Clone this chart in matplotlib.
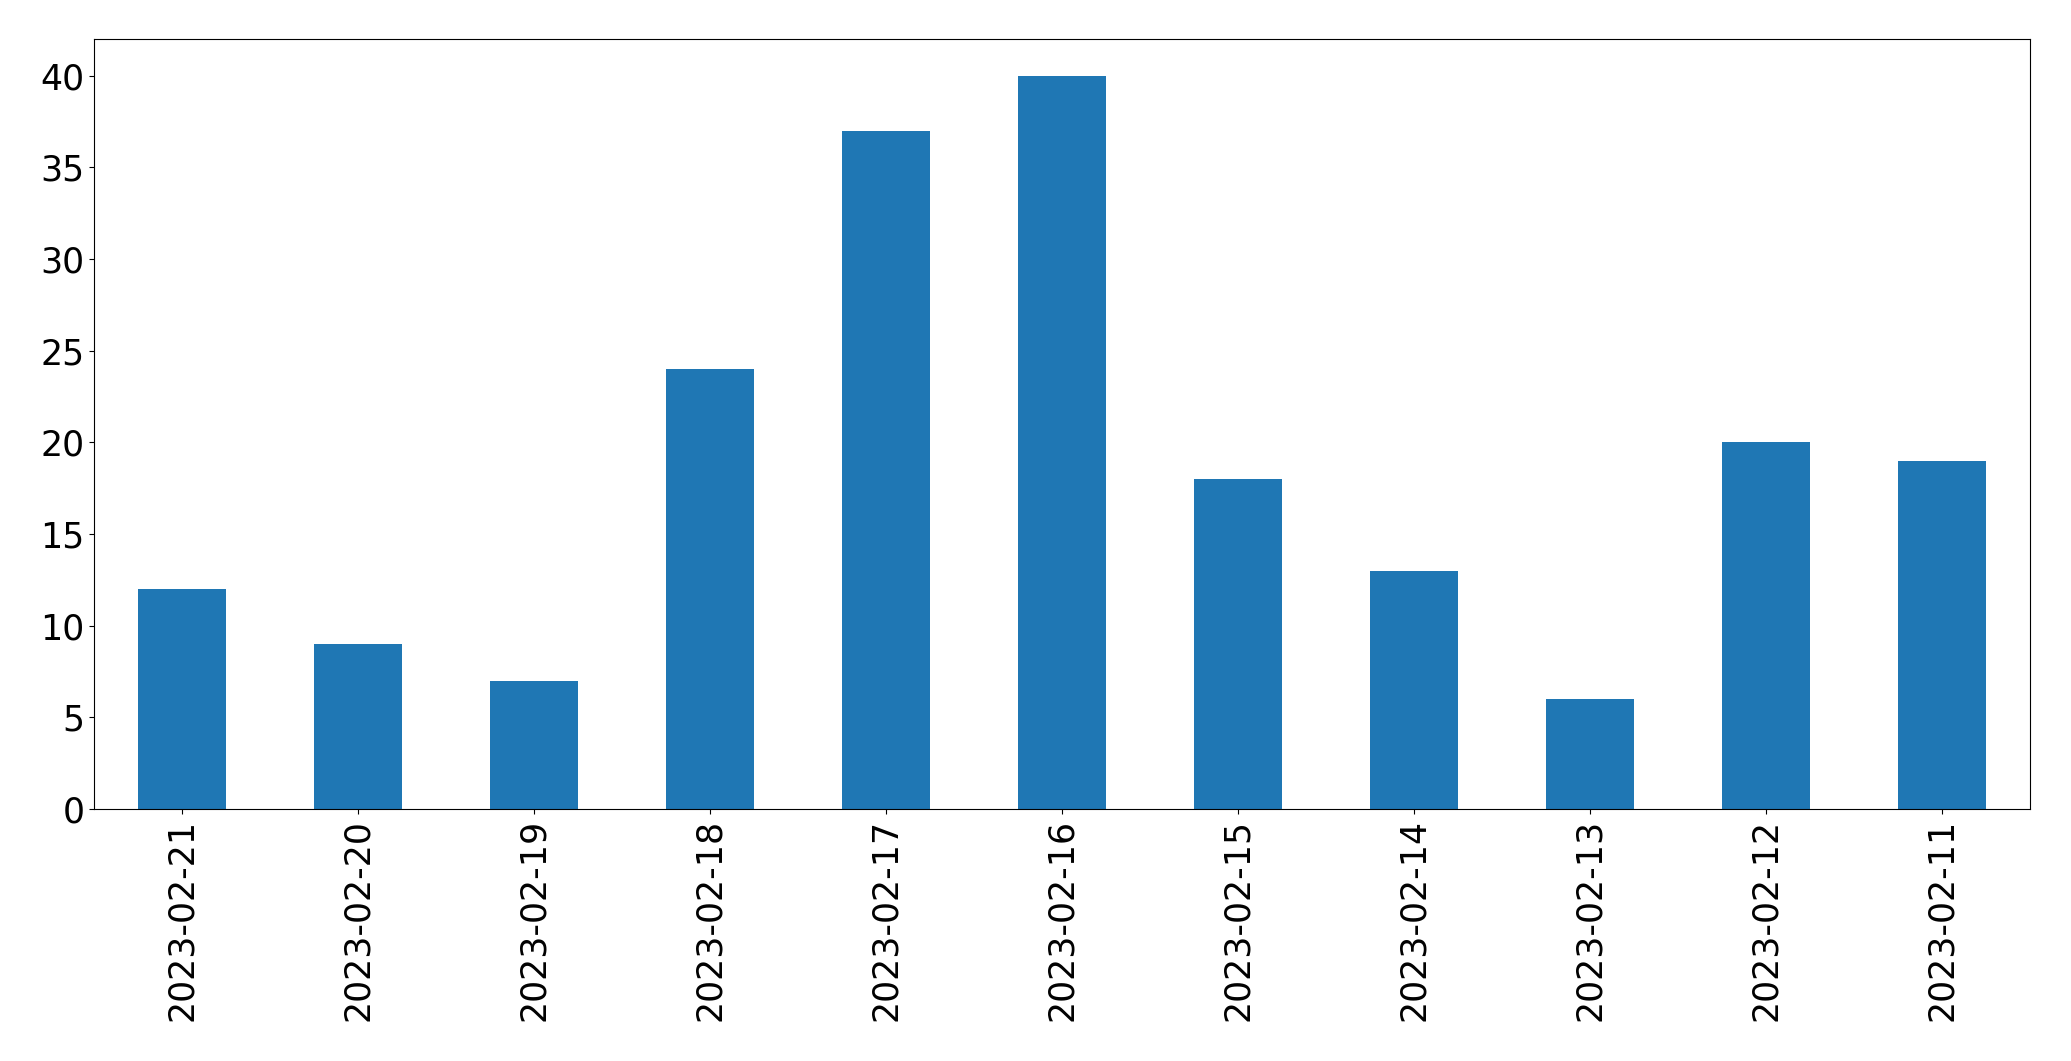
import matplotlib.pyplot as plt
import pandas as pd

dates = ['2023-02-21', '2023-02-20', '2023-02-19', '2023-02-18', '2023-02-17', '2023-02-16',
         '2023-02-15', '2023-02-14', '2023-02-13', '2023-02-12', '2023-02-11']
counts = [12, 9, 7, 24, 37, 40, 18, 13, 6, 20, 19]

s = pd.Series(counts, index=dates)

fig = plt.figure(figsize=(20.71, 10.61), dpi=100)
ax = fig.add_axes([94 / 2071, 1 - 809 / 1061, (2030 - 94) / 2071, (809 - 39) / 1061])
s.plot.bar(ax=ax, color='#1f77b4')
ax.tick_params(axis='both', labelsize=25)

fig.savefig('out.png', dpi=100)
